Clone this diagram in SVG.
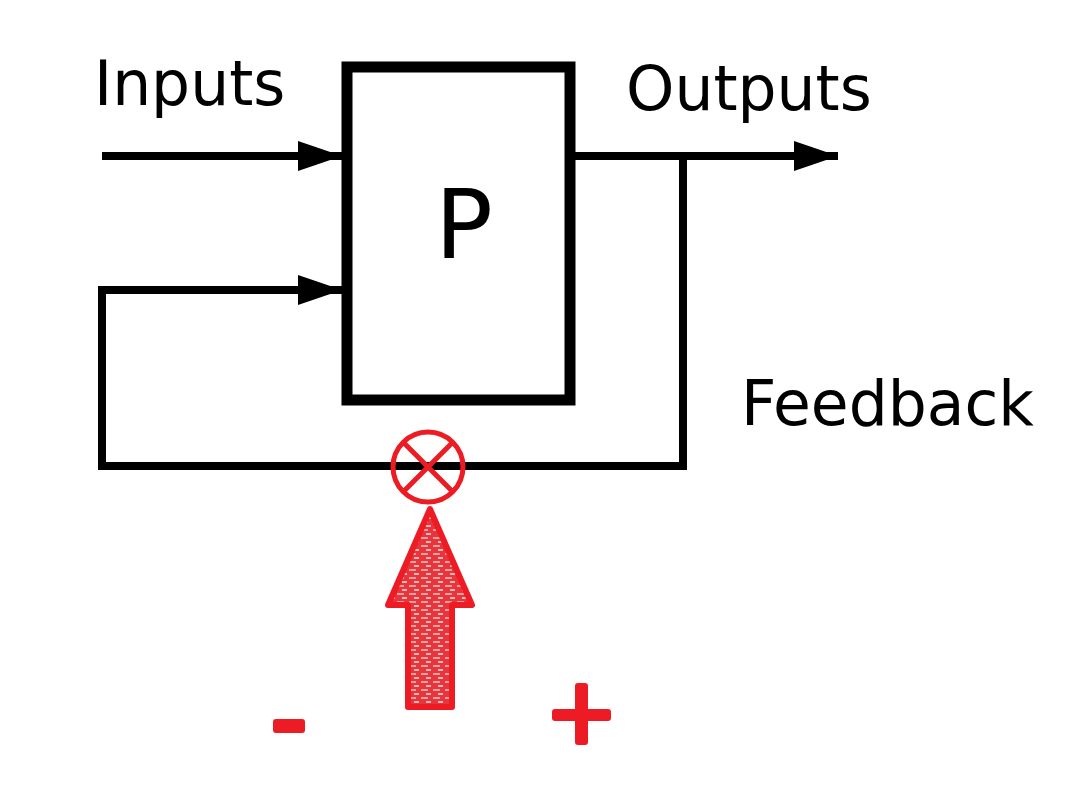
<svg xmlns="http://www.w3.org/2000/svg" width="1071" height="800" viewBox="0 0 1071 800">
<style>
.lbl{font-family:"DejaVu Sans",sans-serif;fill:#000}
.wire{fill:none;stroke:#000;stroke-width:8}
.red{fill:#ed1c24}
</style>
<defs>
<marker id="ah" markerUnits="userSpaceOnUse" markerWidth="44" markerHeight="30" refX="44" refY="15" orient="auto">
<path d="M0,0 L44,15 L0,30 Z" fill="#000"/>
</marker>
<pattern id="tex" width="12" height="8" patternUnits="userSpaceOnUse">
<rect width="12" height="8" fill="#e8343b"/>
<rect x="1" y="1" width="7" height="2" fill="#f6a0a4"/>
<rect x="6" y="5" width="5" height="2" fill="#f4b6b8"/>
</pattern>
</defs>
<rect width="1071" height="800" fill="#fff"/>
<g id="connectors">
<path class="wire" d="M102,156 H342" marker-end="url(#ah)"/>
<path class="wire" d="M575,156 H838" marker-end="url(#ah)"/>
<path class="wire" d="M683,156 V466 H102 V290 H342" marker-end="url(#ah)"/>
</g>
<g id="P">
<rect x="347" y="67" width="223" height="333" fill="none" stroke="#000" stroke-width="11"/>
<text class="lbl" x="464" y="258" font-size="96" text-anchor="middle">P</text>
</g>
<g id="inputs"><text class="lbl" x="94" y="105" font-size="61.5">Inputs</text></g>
<g id="outputs"><text class="lbl" x="626" y="110" font-size="61.5">Outputs</text></g>
<g id="feedback"><text class="lbl" x="741" y="425" font-size="61.5">Feedback</text></g>
<g id="summer">
<circle cx="428" cy="467" r="35" fill="none" stroke="#ed1c24" stroke-width="5"/>
<path d="M403,442 L453,492 M453,442 L403,492" stroke="#ed1c24" stroke-width="5"/>
</g>
<g id="bigarrow">
<path d="M430,509 L472,605 L452,605 L452,707 L408,707 L408,605 L388,605 Z" fill="url(#tex)" stroke="#ed1c24" stroke-width="6" stroke-linejoin="round"/>
</g>
<g id="minus"><rect class="red" x="273" y="719" width="32" height="14" rx="3"/></g>
<g id="plus">
<rect class="red" x="552" y="709" width="59" height="12" rx="3"/>
<rect class="red" x="575" y="683" width="13" height="62" rx="3"/>
</g>
</svg>
